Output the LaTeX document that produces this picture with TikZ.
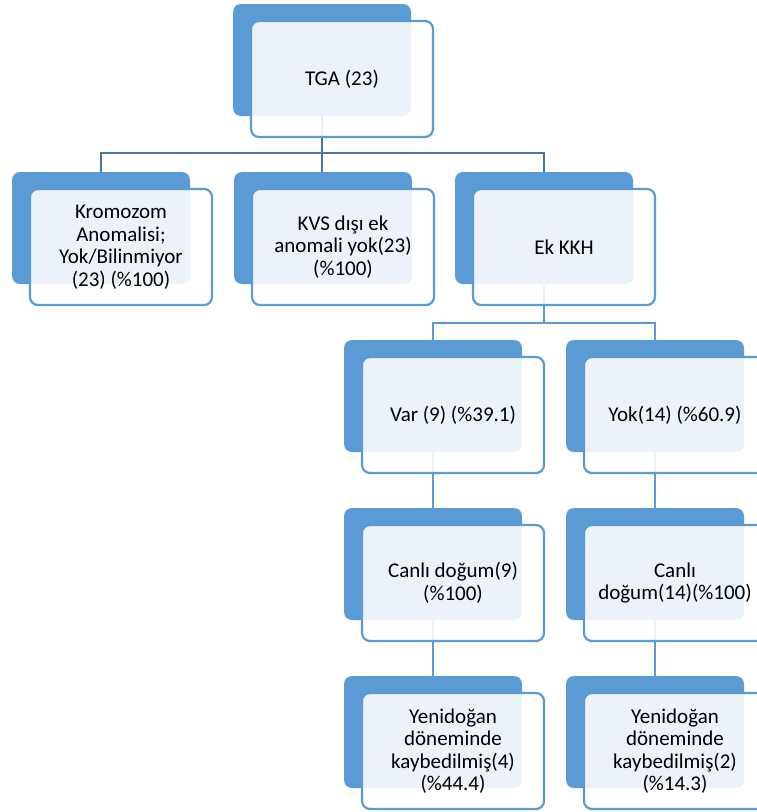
\documentclass[tikz,border=0pt]{standalone}
\usepackage{fontspec}
\setmainfont{Carlito}
\definecolor{accent}{HTML}{5B9BD5}
\definecolor{linkdark}{HTML}{4676AC}
\tikzset{
  backbox/.style={draw=none, fill=accent, rounded corners=8pt,
    minimum width=178pt, minimum height=112pt, anchor=north west,
    inner sep=0pt, outer sep=0pt},
  frontbox/.style={draw=accent, line width=2.2pt, fill=white,
    fill opacity=0.88, text opacity=1, rounded corners=8pt,
    minimum width=182pt, minimum height=116pt, anchor=north west,
    align=center, text=black, inner sep=0pt, outer sep=0pt,
    font=\fontsize{21}{22.5}\selectfont},
  toplink/.style={draw=linkdark, line width=2.8pt},
  sublink/.style={draw=accent, line width=2.4pt},
}
\begin{document}
\begin{tikzpicture}[x=1pt, y=-1pt]
\useasboundingbox (0,0) rectangle (757,812);
\clip (0,0) rectangle (757,812);

% solid blue backing panels
\node[backbox] (tgab) at (233,4) {};
\node[backbox] (kromb) at (12,172) {};
\node[backbox] (kvsb) at (234,172) {};
\node[backbox] (ekb) at (455,172) {};
\node[backbox] (varb) at (344,340) {};
\node[backbox] (yokb) at (566,340) {};
\node[backbox] (canlab) at (344,508) {};
\node[backbox] (canlbb) at (566,508) {};
\node[backbox] (yenab) at (344,676) {};
\node[backbox] (yenbb) at (566,676) {};

% connectors (drawn under the front cards)
\coordinate (bus1) at (322,153);
\coordinate (bus2) at (544,323);
\draw[toplink] (kromb.north) |- (bus1) -| (ekb.north);
\draw[toplink] (tgab.south) -- (tgab.south |- kvsb.north);
\draw[sublink] (varb.north) |- (bus2) -| (yokb.north);
\draw[sublink] (ekb.south) -- (bus2);
\draw[sublink] (varb.south) -- (canlab.north);
\draw[sublink] (yokb.south) -- (canlbb.north);
\draw[sublink] (canlab.south) -- (yenab.north);
\draw[sublink] (canlbb.south) -- (yenbb.north);

% front cards with the labels
\node[frontbox] (tga) at (251,21) {TGA (23)};
\node[frontbox] (krom) at (30,189) {Kromozom\\Anomalisi;\\Yok/Bilinmiyor\\(23) (\%100)};
\node[frontbox] (kvs) at (252,189) {KVS dışı ek\\anomali yok(23)\\(\%100)};
\node[frontbox] (ek) at (473,189) {Ek KKH};
\node[frontbox] (var) at (362,357) {Var (9) (\%39.1)};
\node[frontbox] (yok) at (584,357) {Yok(14) (\%60.9)};
\node[frontbox] (canla) at (362,525) {Canlı doğum(9)\\(\%100)};
\node[frontbox] (canlb) at (584,525) {Canlı\\doğum(14)(\%100)};
\node[frontbox] (yena) at (362,693) {Yenidoğan\\döneminde\\kaybedilmiş(4)\\(\%44.4)};
\node[frontbox] (yenb) at (584,693) {Yenidoğan\\döneminde\\kaybedilmiş(2)\\(\%14.3)};
\end{tikzpicture}
\end{document}
